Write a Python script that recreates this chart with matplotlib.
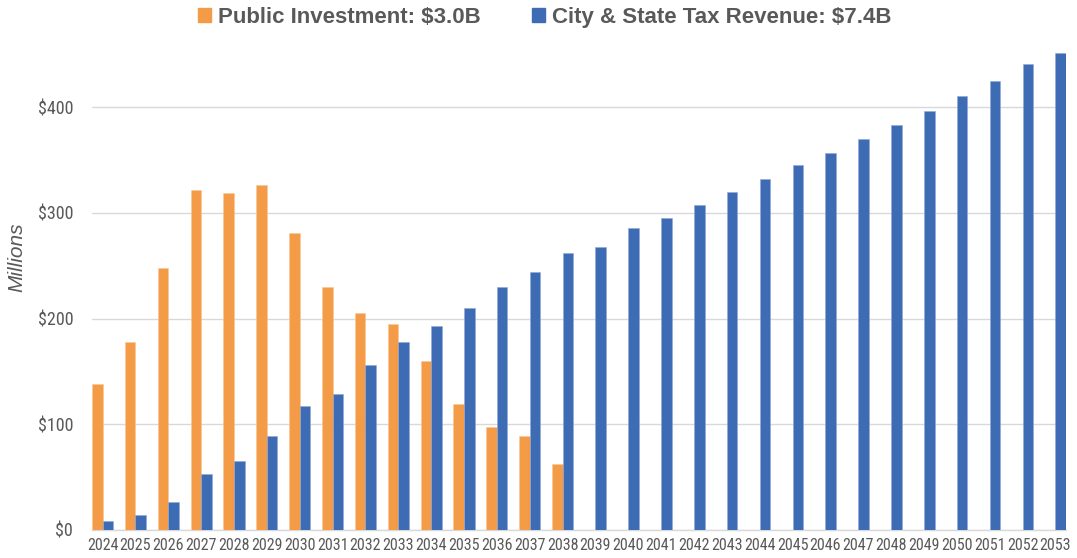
import numpy as np
import matplotlib.pyplot as plt
from matplotlib.patches import Patch

years = list(range(2024, 2054))
public_investment = [138, 178, 248, 322, 319, 326, 281, 230, 205, 195, 160, 119, 97, 89, 62,
                     0, 0, 0, 0, 0, 0, 0, 0, 0, 0, 0, 0, 0, 0, 0]
tax_revenue = [8.5, 14, 26.5, 53, 65, 89, 117, 129, 156, 178, 193, 210, 230, 244, 262,
               268, 286, 295, 307, 320, 332, 345, 357, 370, 383, 396, 410, 425, 441, 451]
labels = ["Public Investment: $3.0B", "City & State Tax Revenue: $7.4B"]

orange = "#F49B47"
blue = "#3E6CB4"
grey = "#595959"
narrow = ["Roboto Condensed", "DejaVu Sans"]
arial = ["Liberation Sans", "DejaVu Sans"]


def main():
    fig = plt.figure(figsize=(10.77, 5.58), dpi=100)
    ax = fig.add_axes([92 / 1077, 28 / 558, (1066 - 92) / 1077, (530 - 43.6) / 558])

    x = np.arange(len(years))
    w = 0.323
    ax.bar(x - w / 2, public_investment, w, color=orange, edgecolor="#F9C79A", linewidth=0.4, zorder=3)
    ax.bar(x + w / 2, tax_revenue, w, color=blue, edgecolor="#8FA8D6", linewidth=0.4, zorder=3)

    ax.set_xlim(-w, len(years) - 1 + w)
    ax.set_ylim(0, 460)
    ax.set_yticks([0, 100, 200, 300, 400])
    ax.set_yticklabels(["$0", "$100", "$200", "$300", "$400"], family=narrow, fontsize=13, color=grey)
    ax.set_xticks(x)
    ax.set_xticklabels([str(y) for y in years], family=narrow, fontsize=11.5, color=grey)
    ax.tick_params(axis="y", length=0, pad=13.5)
    ax.tick_params(axis="x", length=0, pad=6)
    ax.grid(axis="y", color="#D9D9D9", linewidth=1, zorder=0)
    for s in ["top", "right", "left"]:
        ax.spines[s].set_visible(False)
    ax.spines["bottom"].set_color("#D9D9D9")
    ax.spines["bottom"].set_linewidth(1)

    fig.text(17 / 1077, 1 - 257 / 558, "Millions", rotation=90, ha="center", va="center",
             fontsize=15, style="italic", color=grey, family=arial)

    handles = [Patch(color=orange), Patch(color=blue)]
    fig.legend(handles, labels, loc="center", bbox_to_anchor=(0.5056, 1 - 17.5 / 558), ncol=2,
               frameon=False, handlelength=0.6, handleheight=0.6, handletextpad=0.3,
               columnspacing=2.3, prop={"family": arial, "weight": "bold", "size": 16},
               labelcolor=grey)

    fig.savefig("out.png", dpi=100)


if __name__ == "__main__":
    main()
